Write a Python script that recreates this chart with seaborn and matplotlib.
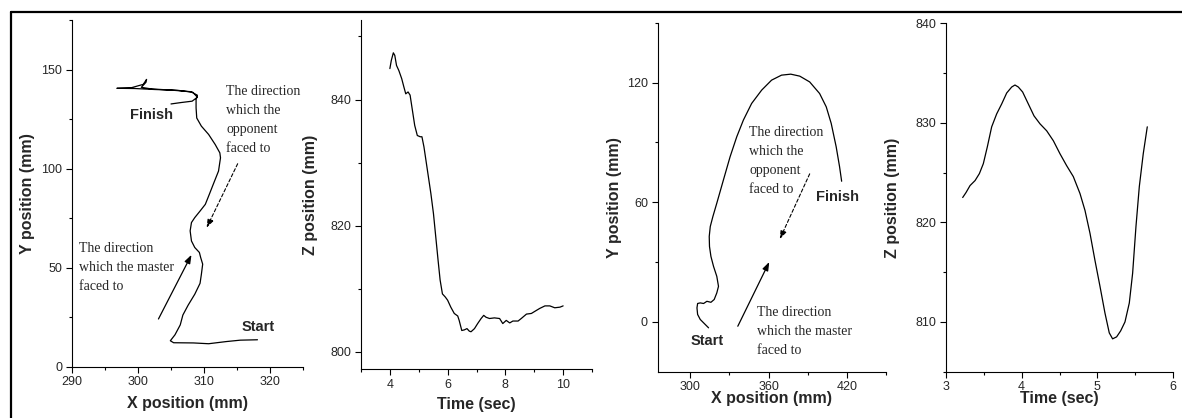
import numpy as np
import pandas as pd
import matplotlib
matplotlib.use("Agg")
import matplotlib.pyplot as plt
from matplotlib.ticker import MultipleLocator
from matplotlib.lines import Line2D
import seaborn as sns

# panel 1: XY trajectory (first trial)
traj1_x = [318.1, 315.5, 313.4, 310.7, 308.4, 305.4, 304.9, 305.6, 306.4, 306.8,
           307.6, 308.6, 309.4, 309.6, 309.8, 309.5, 309.3, 308.6, 308.1, 307.9,
           308.1, 308.6, 309.4, 310.2, 310.8, 311.4, 312.2, 312.5, 312.4, 311.7,
           310.7, 309.6, 308.9, 308.8, 308.8, 309.0, 308.0, 305.0, 302.0, 300.5,
           301.2, 301.3, 300.8, 299.0, 296.8, 299.5, 302.5, 306.0, 308.3, 309.0,
           308.2, 306.5, 305.0]
traj1_y = [13.5, 13.3, 12.6, 11.5, 11.9, 12.0, 13.0, 16.0, 21.0, 26.0,
           31.0, 36.5, 42.0, 46.5, 51.7, 55.0, 57.6, 60.1, 63.4, 68.5,
           72.7, 75.2, 78.5, 81.9, 86.9, 92.0, 98.7, 105.4, 107.9, 112.1,
           117.2, 121.4, 125.5, 130.6, 134.8, 137.0, 138.8, 139.6, 140.2, 141.0,
           143.5, 145.0, 142.5, 140.8, 140.5, 140.4, 139.9, 139.5, 138.5, 136.0,
           134.0, 133.3, 132.6]

# panel 2: Z over time (first trial)
time2 = [4.00, 4.05, 4.12, 4.17, 4.23, 4.31, 4.41, 4.49, 4.55, 4.63, 4.70, 4.78,
         4.86, 4.95, 5.05, 5.11, 5.18, 5.30, 5.42, 5.51, 5.59, 5.67, 5.74, 5.82,
         5.92, 6.00, 6.11, 6.23, 6.35, 6.40, 6.49, 6.58, 6.67, 6.75, 6.81, 6.93,
         7.04, 7.16, 7.25, 7.33, 7.45, 7.62, 7.80, 7.91, 8.03, 8.15, 8.26, 8.44,
         8.55, 8.73, 8.90, 9.08, 9.19, 9.37, 9.54, 9.71, 9.89, 10.00]
z2 = [844.9, 846.2, 847.4, 847.0, 845.4, 844.6, 843.3, 841.9, 840.9, 841.2, 840.7, 838.3,
      835.9, 834.3, 834.1, 834.1, 832.5, 828.8, 825.1, 821.9, 818.2, 814.5, 811.4, 809.2,
      808.7, 808.2, 807.1, 806.1, 805.7, 805.0, 803.4, 803.5, 803.7, 803.3, 803.2, 803.7,
      804.5, 805.3, 805.8, 805.5, 805.3, 805.4, 805.3, 804.5, 805.0, 804.6, 804.9, 804.9,
      805.3, 806.0, 806.1, 806.6, 806.9, 807.3, 807.3, 807.0, 807.1, 807.3]

# panel 3: XY trajectory (second trial)
traj3_x = [314.0, 311.4, 307.6, 305.6, 305.1, 305.6, 307.6, 310.2, 312.7, 315.8,
           318.3, 320.3, 321.6, 320.3, 317.8, 315.8, 314.7, 314.5, 315.3, 317.3,
           320.3, 325.4, 330.5, 335.6, 340.7, 347.0, 354.7, 362.3, 369.9, 377.0,
           383.9, 391.5, 399.1, 404.2, 408.0, 411.8, 414.4, 416.0]
traj3_y = [-3.0, -1.3, 1.2, 3.7, 7.0, 9.2, 9.5, 9.2, 10.3, 9.8,
           11.2, 14.5, 17.8, 22.8, 27.8, 32.8, 37.8, 42.8, 47.8, 52.8,
           59.5, 71.2, 82.8, 92.8, 101.2, 109.5, 116.2, 121.2, 123.7, 124.2,
           123.2, 120.3, 114.5, 107.8, 99.5, 87.8, 77.8, 70.5]

# panel 4: Z over time (second trial)
time4 = [3.224, 3.268, 3.321, 3.387, 3.444, 3.496, 3.549, 3.606, 3.672, 3.738,
         3.804, 3.870, 3.913, 3.957, 4.014, 4.089, 4.164, 4.243, 4.331, 4.419,
         4.506, 4.594, 4.682, 4.770, 4.836, 4.902, 4.967, 5.033, 5.099, 5.156,
         5.200, 5.253, 5.306, 5.363, 5.420, 5.464, 5.508, 5.552, 5.604, 5.657]
z4 = [822.5, 823.0, 823.7, 824.2, 824.9, 825.9, 827.6, 829.6, 830.9, 831.9,
      833.0, 833.6, 833.8, 833.6, 833.1, 831.9, 830.7, 829.9, 829.2, 828.2,
      826.9, 825.7, 824.6, 822.9, 821.2, 818.9, 816.2, 813.6, 810.9, 808.9,
      808.3, 808.5, 809.1, 810.0, 811.9, 814.9, 819.6, 823.6, 826.9, 829.6]

opponent_text = "The direction\nwhich the\nopponent\nfaced to"
master_text = "The direction\nwhich the master\nfaced to"

sns.set_style("ticks")
plt.rcParams['font.family'] = ['Liberation Sans', 'DejaVu Sans']
plt.rcParams['xtick.direction'] = 'out'
plt.rcParams['ytick.direction'] = 'out'

W, H = 1182, 418
fig = plt.figure(figsize=(W / 100, H / 100), dpi=100)


def make_axes(left, top, right, bottom):
    return fig.add_axes([left / W, 1 - bottom / H, (right - left) / W, (bottom - top) / H])


ax1 = make_axes(72, 20, 303, 366.5)
ax2 = make_axes(361, 20, 592, 369)
ax3 = make_axes(657.7, 22.7, 886, 371.7)
ax4 = make_axes(945.7, 23.3, 1173.3, 371.7)

df1 = pd.DataFrame({'x': traj1_x, 'y': traj1_y})
df2 = pd.DataFrame({'t': time2, 'z': z2})
df3 = pd.DataFrame({'x': traj3_x, 'y': traj3_y})
df4 = pd.DataFrame({'t': time4, 'z': z4})

lw = 0.9
sns.lineplot(data=df1, x='x', y='y', sort=False, estimator=None, color='black', lw=lw, ax=ax1)
sns.lineplot(data=df2, x='t', y='z', sort=False, estimator=None, color='black', lw=lw, ax=ax2)
sns.lineplot(data=df3, x='x', y='y', sort=False, estimator=None, color='black', lw=lw, ax=ax3)
sns.lineplot(data=df4, x='t', y='z', sort=False, estimator=None, color='black', lw=lw, ax=ax4)

settings = [
    (ax1, (290, 325), (0, 175), 10, 5, 50, 25, "X position (mm)", "Y position (mm)", 44, 37),
    (ax2, (3, 11), (797.3, 852.6), 2, 1, 20, 10, "Time (sec)", "Z position (mm)", 50, 35),
    (ax3, (275, 450), (-25, 150), 60, 30, 60, 30, "X position (mm)", "Y position (mm)", 43, 27),
    (ax4, (3, 6), (805, 840), 1, 0.5, 10, 5, "Time (sec)", "Z position (mm)", 53, 27),
]
for ax, xl, yl, xmaj, xmin, ymaj, ymin, xlab, ylab, yoff, xoff in settings:
    ax.set_xlim(*xl)
    ax.set_ylim(*yl)
    ax.xaxis.set_major_locator(MultipleLocator(xmaj))
    ax.xaxis.set_minor_locator(MultipleLocator(xmin))
    ax.yaxis.set_major_locator(MultipleLocator(ymaj))
    ax.yaxis.set_minor_locator(MultipleLocator(ymin))
    ax.tick_params(which='major', length=4, width=0.8, labelsize=9, pad=3, color='black')
    ax.tick_params(which='minor', length=2.5, width=0.8, color='black')
    sns.despine(ax=ax)
    for s in ['left', 'bottom']:
        ax.spines[s].set_linewidth(0.8)
        ax.spines[s].set_color('black')
    ax.set_xlabel(xlab, fontsize=11.5, fontweight='bold')
    ax.set_ylabel(ylab, fontsize=11.5, fontweight='bold')
    bb = ax.get_position()
    wpx, hpx = bb.width * W, bb.height * H
    ax.yaxis.set_label_coords(-yoff / wpx, 0.5)
    ax.yaxis.label.set_va('center')
    ax.xaxis.set_label_coords(0.5, -xoff / hpx)
    ax.xaxis.label.set_va('center')

serif = ['Liberation Serif', 'DejaVu Serif']
solid = dict(arrowstyle='-|>,head_length=0.5,head_width=0.18', color='black', lw=0.9,
             shrinkA=0, shrinkB=0)
dashed = dict(arrowstyle='-|>,head_length=0.5,head_width=0.18', color='black', lw=0.8,
              linestyle=(0, (3, 2)), shrinkA=0, shrinkB=0)

# panel 1 annotations
ax1.text(302.0, 127.0, "Finish", fontsize=10.5, fontweight='bold', ha='center', va='center')
ax1.text(318.2, 20.1, "Start", fontsize=10.5, fontweight='bold', ha='center', va='center')
ax1.text(313.4, 142.3, opponent_text, family=serif, fontsize=10, ha='left', va='top',
         linespacing=1.6, clip_on=False)
ax1.text(291.1, 63.1, master_text, family=serif, fontsize=10, ha='left', va='top',
         linespacing=1.6)
ax1.annotate("", xy=(308.1, 56.4), xytext=(303.1, 24.0), arrowprops=solid)
ax1.annotate("", xy=(310.4, 70.1), xytext=(315.1, 102.4), arrowprops=dashed)

# panel 3 annotations
ax3.text(313.2, -9.7, "Start", fontsize=10.5, fontweight='bold', ha='center', va='center')
ax3.text(413.1, 62.8, "Finish", fontsize=10.5, fontweight='bold', ha='center', va='center')
ax3.text(345.2, 98.2, opponent_text, family=serif, fontsize=10, ha='left', va='top',
         linespacing=1.6)
ax3.text(350.9, 7.8, master_text, family=serif, fontsize=10, ha='left', va='top',
         linespacing=1.6)
ax3.annotate("", xy=(360.5, 30.0), xytext=(336.4, -2.2), arrowprops=solid)
ax3.annotate("", xy=(368.6, 41.5), xytext=(391.5, 74.2), arrowprops=dashed)

# frame lines at top and left of the figure
fig.add_artist(Line2D([10.5 / W, 1], [1 - 12 / H, 1 - 12 / H], transform=fig.transFigure,
                      color='black', lw=1.6))
fig.add_artist(Line2D([10.5 / W, 10.5 / W], [0, 1 - 12 / H], transform=fig.transFigure,
                      color='black', lw=1.6))

fig.savefig("out.png", dpi=100)
